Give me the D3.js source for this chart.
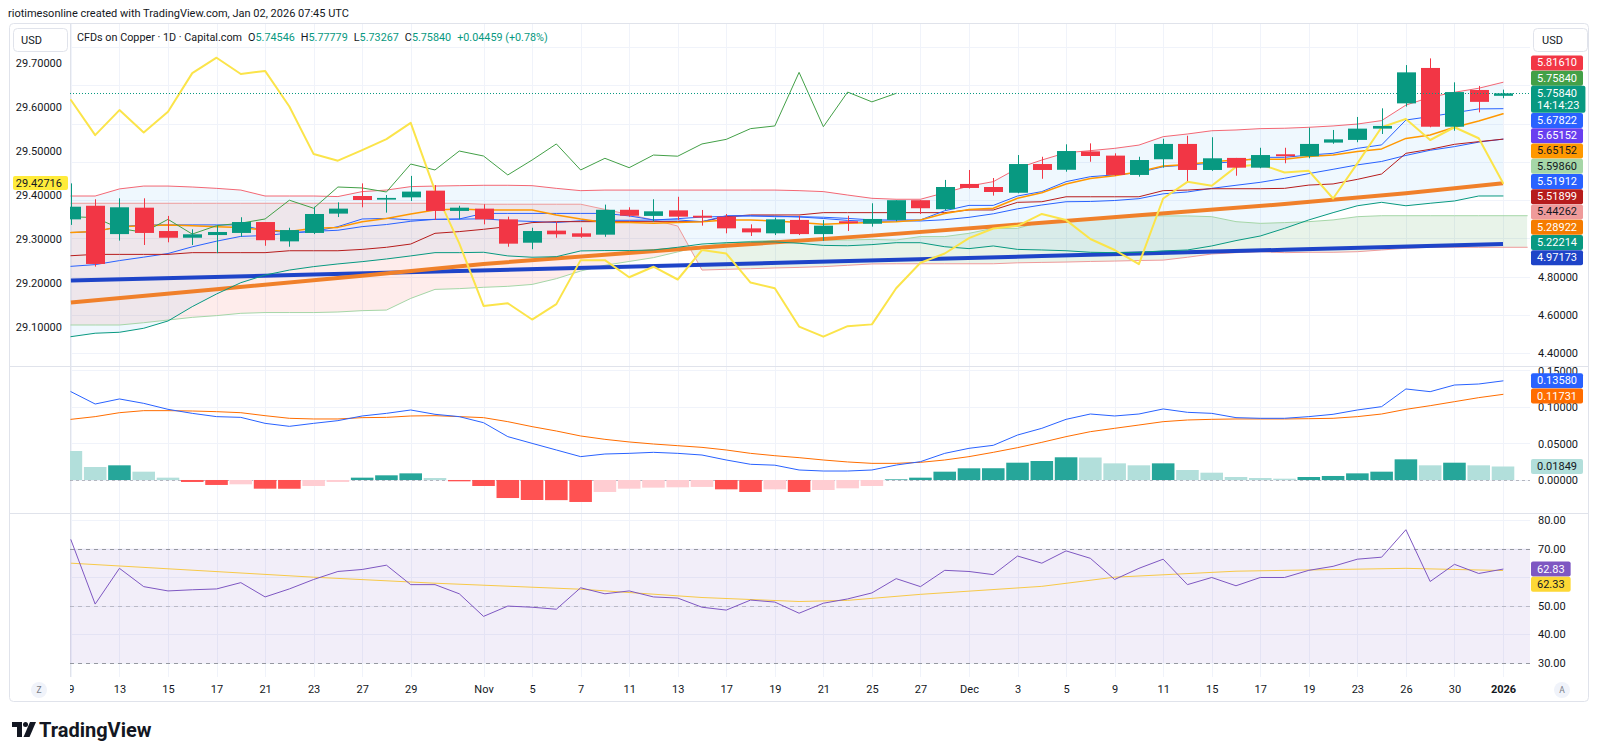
<!DOCTYPE html>
<html>
<head>
<meta charset="utf-8">
<script src="https://cdn.jsdelivr.net/npm/d3@7"></script>
<style>
  body { margin: 0; background: #fff; }
  svg text { font-family: Roboto, "Noto Sans", Arial, sans-serif; }
</style>
</head>
<body>
<script>
// ---------- data ----------
const dates = [
  "2025-10-09","2025-10-10","2025-10-13","2025-10-14","2025-10-15","2025-10-16","2025-10-17","2025-10-20","2025-10-21","2025-10-22",
  "2025-10-23","2025-10-24","2025-10-27","2025-10-28","2025-10-29","2025-10-30","2025-10-31","2025-11-03","2025-11-04","2025-11-05",
  "2025-11-06","2025-11-07","2025-11-10","2025-11-11","2025-11-12","2025-11-13","2025-11-14","2025-11-17","2025-11-18","2025-11-19",
  "2025-11-20","2025-11-21","2025-11-24","2025-11-25","2025-11-26","2025-11-27","2025-11-28","2025-12-01","2025-12-02","2025-12-03",
  "2025-12-04","2025-12-05","2025-12-08","2025-12-09","2025-12-10","2025-12-11","2025-12-12","2025-12-15","2025-12-16","2025-12-17",
  "2025-12-18","2025-12-19","2025-12-22","2025-12-23","2025-12-24","2025-12-26","2025-12-29","2025-12-30","2025-12-31","2026-01-02"
];
const futureDates = ["2026-01-05"]; // leading spans run one bar past the last candle

const opens = [
  5.100,5.171,5.023,5.161,5.039,5.004,5.018,5.029,5.086,4.985,
  5.029,5.130,5.222,5.203,5.215,5.250,5.144,5.156,5.100,4.978,
  5.041,5.027,5.020,5.150,5.118,5.147,5.119,5.114,5.053,5.027,
  5.097,5.023,5.090,5.077,5.097,5.200,5.153,5.285,5.269,5.239,
  5.389,5.359,5.455,5.433,5.332,5.414,5.494,5.358,5.421,5.370,
  5.440,5.430,5.501,5.515,5.574,5.706,5.891,5.584,5.776,5.74546
];
const highs = [
  5.288,5.205,5.210,5.210,5.118,5.048,5.067,5.111,5.086,5.056,
  5.166,5.189,5.288,5.227,5.327,5.279,5.171,5.179,5.114,5.056,
  5.088,5.058,5.177,5.163,5.205,5.218,5.149,5.128,5.074,5.109,
  5.119,5.097,5.119,5.184,5.200,5.200,5.306,5.358,5.316,5.436,
  5.427,5.492,5.497,5.445,5.427,5.521,5.537,5.529,5.421,5.474,
  5.474,5.579,5.567,5.635,5.680,5.906,5.941,5.816,5.797,5.77779
];
const lows = [
  5.071,4.853,4.989,4.966,4.980,4.966,4.923,5.009,4.962,4.957,
  5.023,5.112,5.163,5.135,5.196,5.097,5.100,5.074,4.957,4.944,
  5.004,5.004,5.009,5.114,5.088,5.097,5.067,5.027,5.013,5.018,
  5.018,4.988,5.039,5.062,5.090,5.128,5.149,5.261,5.224,5.236,
  5.312,5.349,5.401,5.327,5.323,5.370,5.300,5.353,5.328,5.367,
  5.393,5.419,5.495,5.503,5.546,5.689,5.581,5.563,5.659,5.73267
];
const closes = [
  5.166,4.867,5.163,5.029,5.004,5.022,5.034,5.086,4.991,5.044,
  5.128,5.156,5.201,5.212,5.245,5.144,5.161,5.100,4.973,5.039,
  5.022,5.009,5.150,5.119,5.142,5.114,5.109,5.053,5.032,5.100,
  5.023,5.067,5.080,5.102,5.200,5.158,5.269,5.264,5.243,5.389,
  5.358,5.457,5.431,5.332,5.410,5.494,5.358,5.419,5.370,5.436,
  5.430,5.494,5.518,5.574,5.588,5.868,5.584,5.765,5.71381,5.75840
];

// compared symbol on the left scale
const yellowLine = [
  29.616,29.536,29.593,29.542,29.589,29.677,29.712,29.675,29.682,29.601,
  29.493,29.478,29.502,29.527,29.564,29.410,29.290,29.148,29.154,29.117,
  29.152,29.252,29.252,29.213,29.237,29.208,29.275,29.267,29.201,29.188,
  29.101,29.078,29.102,29.106,29.188,29.246,29.267,29.302,29.324,29.330,
  29.357,29.343,29.300,29.275,29.243,29.392,29.430,29.421,29.464,29.470,
  29.451,29.455,29.392,29.472,29.554,29.573,29.525,29.554,29.529,29.42716
];

// Bollinger bands
const bbUpper = [
  5.222,5.222,5.259,5.274,5.274,5.269,5.262,5.253,5.222,5.222,
  5.222,5.219,5.245,5.253,5.271,5.274,5.276,5.278,5.278,5.276,
  5.262,5.250,5.253,5.253,5.253,5.253,5.253,5.253,5.253,5.253,
  5.250,5.245,5.227,5.210,5.205,5.205,5.239,5.274,5.297,5.367,
  5.410,5.448,5.459,5.471,5.488,5.532,5.546,5.563,5.567,5.574,
  5.576,5.581,5.588,5.598,5.616,5.697,5.738,5.764,5.785,5.81610
];
const bbLower = [
  4.487,4.505,4.510,4.531,4.569,4.644,4.710,4.769,4.809,4.835,
  4.853,4.867,4.879,4.893,4.909,4.926,4.926,4.928,4.909,4.902,
  4.905,4.935,4.937,4.937,4.940,4.954,4.971,4.978,4.982,4.982,
  4.975,4.964,4.962,4.968,4.978,4.978,4.957,4.947,4.961,4.943,
  4.940,4.936,4.928,4.926,4.928,4.935,4.940,4.961,4.989,5.013,
  5.053,5.097,5.135,5.171,5.189,5.171,5.184,5.196,5.222,5.22214
];

// Ichimoku
const conversionLine = [
  5.031,5.036,5.062,5.071,5.071,5.071,5.071,5.071,5.041,5.031,
  5.036,5.062,5.102,5.105,5.097,5.100,5.102,5.131,5.131,5.131,
  5.131,5.131,5.131,5.118,5.097,5.097,5.088,5.119,5.119,5.114,
  5.114,5.111,5.105,5.097,5.097,5.097,5.145,5.173,5.173,5.222,
  5.245,5.297,5.323,5.332,5.344,5.375,5.384,5.393,5.401,5.424,
  5.424,5.436,5.445,5.471,5.489,5.619,5.637,5.657,5.677,5.67822
];
const baseLine = [
  4.910,4.917,4.917,4.917,4.917,4.926,4.926,4.926,4.926,4.936,
  4.936,4.936,4.943,4.954,4.971,5.027,5.036,5.048,5.062,5.083,
  5.088,5.088,5.088,5.088,5.088,5.088,5.088,5.114,5.123,5.123,
  5.123,5.135,5.135,5.135,5.135,5.135,5.135,5.149,5.149,5.189,
  5.192,5.218,5.218,5.218,5.218,5.250,5.253,5.260,5.260,5.260,
  5.262,5.279,5.285,5.309,5.337,5.445,5.466,5.492,5.506,5.51899
];
const spanA = [
  4.548,4.548,4.548,4.560,4.574,4.588,4.597,4.609,4.613,4.613,
  4.613,4.616,4.623,4.626,4.687,4.734,4.738,4.745,4.750,4.760,
  4.790,4.830,4.860,4.880,4.900,4.930,4.960,4.975,4.985,4.990,
  4.990,4.992,4.992,4.995,4.992,5.010,5.010,5.027,5.053,5.053,
  5.088,5.088,5.105,5.114,5.118,5.118,5.118,5.114,5.088,5.079,
  5.083,5.088,5.097,5.114,5.119,5.119,5.119,5.119,5.119,5.119,5.119
];
const spanB = [
  5.184,5.184,5.184,5.184,5.184,5.184,5.184,5.184,5.184,5.184,
  5.184,5.184,5.184,5.184,5.184,5.184,5.184,5.179,5.179,5.179,
  5.179,5.179,5.152,5.125,5.097,5.065,4.835,4.839,4.842,4.846,
  4.849,4.853,4.860,4.867,4.868,4.868,4.868,4.868,4.868,4.873,
  4.875,4.877,4.880,4.882,4.885,4.887,4.902,4.919,4.926,4.931,
  4.926,4.928,4.928,4.931,4.940,4.949,4.954,4.954,4.954,4.954,4.954
];
const laggingShift = 25;
const spanAAhead = 5.59860;
const spanBAhead = 5.44262;
const purpleLast = 5.65152;
const countdown = "14:14:23";

const fastLine = [
  5.031,5.036,5.062,5.067,5.071,5.067,5.062,5.057,5.044,5.036,
  5.053,5.058,5.088,5.105,5.128,5.149,5.154,5.149,5.149,5.149,
  5.123,5.102,5.084,5.083,5.079,5.083,5.088,5.097,5.097,5.091,
  5.083,5.074,5.079,5.083,5.088,5.097,5.131,5.152,5.158,5.210,
  5.239,5.285,5.314,5.328,5.349,5.379,5.387,5.401,5.410,5.414,
  5.414,5.428,5.436,5.454,5.468,5.523,5.541,5.581,5.614,5.65152
];
const maOrangePts = [
  ["2025-10-09",4.665],["2025-10-17",4.735],["2025-10-27",4.805],["2025-11-03",4.867],
  ["2025-11-10",4.915],["2025-11-17",4.962],["2025-11-25",5.015],["2025-12-02",5.063],
  ["2025-12-10",5.121],["2025-12-18",5.180],["2025-12-26",5.236],["2026-01-02",5.28922]
];
const maBluePts = [
  ["2025-10-09",4.780],["2025-10-23",4.812],["2025-11-06",4.843],["2025-11-20",4.876],
  ["2025-12-04",4.908],["2025-12-18",4.941],["2026-01-02",4.97173]
];

// MACD
const macdLine = [
  0.1210,0.1041,0.1110,0.1050,0.0968,0.0913,0.0868,0.0858,0.0776,0.0735,
  0.0776,0.0813,0.0877,0.0913,0.0959,0.0900,0.0868,0.0785,0.0594,0.0502,
  0.0411,0.0320,0.0356,0.0365,0.0379,0.0365,0.0342,0.0274,0.0215,0.0203,
  0.0137,0.0123,0.0123,0.0137,0.0205,0.0251,0.0365,0.0434,0.0475,0.0616,
  0.0708,0.0831,0.0904,0.0877,0.0904,0.0973,0.0927,0.0913,0.0854,0.0845,
  0.0845,0.0868,0.0900,0.0959,0.1005,0.1247,0.1210,0.1301,0.1315,0.13580
];
const signalLine = [
  0.0831,0.0868,0.0922,0.0950,0.0950,0.0945,0.0936,0.0922,0.0881,0.0845,
  0.0836,0.0836,0.0854,0.0858,0.0877,0.0881,0.0868,0.0854,0.0799,0.0731,
  0.0671,0.0603,0.0557,0.0521,0.0493,0.0470,0.0447,0.0411,0.0365,0.0333,
  0.0306,0.0274,0.0247,0.0228,0.0228,0.0242,0.0274,0.0320,0.0379,0.0443,
  0.0516,0.0594,0.0662,0.0708,0.0753,0.0799,0.0822,0.0831,0.0836,0.0836,
  0.0836,0.0840,0.0845,0.0868,0.0904,0.0968,0.1018,0.1073,0.1128,0.11731
];
const histValues = [
  0.0397,0.0178,0.0201,0.0114,0.0032,-0.0027,-0.0068,-0.0059,-0.0119,-0.0120,
  -0.0082,-0.0027,0.0032,0.0064,0.0091,0.0027,-0.0018,-0.0082,-0.0247,-0.0274,
  -0.0276,-0.0301,-0.0164,-0.0119,-0.0105,-0.0100,-0.0095,-0.0128,-0.0164,-0.0128,
  -0.0164,-0.0137,-0.0114,-0.0082,0.0009,0.0032,0.0114,0.0160,0.0161,0.0237,
  0.0260,0.0311,0.0308,0.0228,0.0201,0.0228,0.0137,0.0100,0.0041,0.0027,
  0.0018,0.0041,0.0055,0.0091,0.0114,0.0283,0.0201,0.0237,0.0201,0.01849
];

// RSI
const rsiValues = [
  73.1,50.6,63.1,56.7,55.2,55.6,55.9,58.1,53.1,55.9,
  59.2,62.0,62.7,64.2,57.4,57.4,54.2,46.3,49.9,49.5,
  48.8,56.3,54.2,55.2,53.1,52.7,49.5,48.5,52.0,51.3,
  47.4,50.9,52.4,54.5,59.5,56.7,62.4,62.0,60.9,67.4,
  64.9,69.2,66.6,59.2,63.1,66.3,57.4,59.9,57.0,59.9,
  59.9,62.4,63.8,66.3,67.0,76.6,58.5,64.5,61.3,62.83
];
const rsiMaPts = [
  ["2025-10-09",64.9],["2025-10-23",60.0],["2025-10-30",57.9],["2025-11-07",55.8],
  ["2025-11-14",52.9],["2025-11-20",51.5],["2025-11-24",51.9],["2025-11-27",54.0],
  ["2025-12-04",56.8],["2025-12-09",60.0],["2025-12-16",62.1],["2025-12-26",63.1],
  ["2026-01-02",62.33]
];

// axes
const tickDates = [
  "2025-10-09","2025-10-13","2025-10-15","2025-10-17","2025-10-21","2025-10-23","2025-10-27","2025-10-29",
  "2025-11-03","2025-11-05","2025-11-07","2025-11-11","2025-11-13","2025-11-17","2025-11-19","2025-11-21",
  "2025-11-25","2025-11-27","2025-12-01","2025-12-03","2025-12-05","2025-12-09","2025-12-11","2025-12-15",
  "2025-12-17","2025-12-19","2025-12-23","2025-12-26","2025-12-30","2026-01-02"
];
const tickLabels = [
  "9","13","15","17","21","23","27","29","Nov","5","7","11","13","17","19","21",
  "25","27","Dec","3","5","9","11","15","17","19","23","26","30","2026"
];
const rightTicks = [4.4, 4.6, 4.8, 5.0, 5.2, 5.4, 5.6, 5.8, 6.0];
const leftTicks = [29.1, 29.2, 29.3, 29.4, 29.5, 29.6, 29.7];
const macdTicks = [0, 0.05, 0.10, 0.15];
const rsiTicks = [30, 40, 50, 60, 70, 80];

// ---------- layout ----------
const TEXT = '#131722', GRID = '#f0f3fa', BORDER = '#e0e3eb';
const UP = '#089981', DOWN = '#f23645';
const plotL = 70, plotR = 1530;
const mainTop = 23, mainBot = 366, macdBot = 513, rsiBot = 677;

const allDates = dates.concat(futureDates);
const xi = d3.scaleLinear().domain([0, dates.length - 1]).range([70.9, 1503]);
const xd = d => xi(allDates.indexOf(d));
const step = xi(1) - xi(0);

const yR = d3.scaleLinear().domain([4.3338, 6.1259]).range([mainBot, mainTop]);
const yL = d3.scaleLinear().domain([29.0114, 29.7909]).range([mainBot, mainTop]);
const yM = d3.scaleLinear().domain([-0.04521, 0.15616]).range([macdBot, mainBot]);
const yS = d3.scaleLinear().domain([25.1, 82.45]).range([rsiBot, macdBot]);

const svg = d3.select('body').append('svg')
  .attr('width', 1600).attr('height', 756);
const defs = svg.append('defs');

function addClip(id, x, y, w, h) {
  defs.append('clipPath').attr('id', id)
    .append('rect').attr('x', x).attr('y', y).attr('width', w).attr('height', h);
}
addClip('clipMain', plotL, mainTop, plotR - plotL, mainBot - mainTop);
addClip('clipMacd', plotL, mainBot, plotR - plotL, macdBot - mainBot);
addClip('clipRsi', plotL, macdBot, plotR - plotL, rsiBot - macdBot);
addClip('clipTime', plotL, rsiBot, plotR - plotL, 26);

svg.append('rect').attr('width', 1600).attr('height', 756).attr('fill', '#fff');

// header
svg.append('text')
  .attr('x', 8).attr('y', 13).attr('dominant-baseline', 'central')
  .attr('font-size', 11).attr('fill', TEXT)
  .text('riotimesonline created with TradingView.com, Jan 02, 2026 07:45 UTC');

// frame
svg.append('rect')
  .attr('x', 9.5).attr('y', 23.5).attr('width', 1579).attr('height', 678)
  .attr('rx', 4).attr('fill', '#fff').attr('stroke', BORDER);

// ---------- grid ----------
const grid = svg.append('g').attr('stroke', GRID).attr('stroke-width', 1);
grid.selectAll('.vg').data(tickDates.filter(d => xd(d) >= plotL)).enter().append('line')
  .attr('x1', d => Math.round(xd(d)) + 0.5).attr('x2', d => Math.round(xd(d)) + 0.5)
  .attr('y1', mainTop + 1).attr('y2', rsiBot);
function hGrid(ticks, scale, top, bot) {
  grid.selectAll(null).data(ticks.filter(t => scale(t) > top && scale(t) < bot)).enter().append('line')
    .attr('x1', plotL).attr('x2', plotR)
    .attr('y1', t => Math.round(scale(t)) + 0.5).attr('y2', t => Math.round(scale(t)) + 0.5);
}
hGrid(rightTicks, yR, mainTop, mainBot);
hGrid(macdTicks, yM, mainBot, macdBot);
hGrid(rsiTicks, yS, macdBot, rsiBot);

// pane separators
const sep = svg.append('g').attr('stroke', BORDER);
[mainBot, macdBot].forEach(y => sep.append('line')
  .attr('x1', 10).attr('x2', 1588).attr('y1', y + 0.5).attr('y2', y + 0.5));
sep.append('line').attr('x1', plotL + 0.5).attr('x2', plotL + 0.5)
  .attr('y1', mainTop).attr('y2', rsiBot);

// ---------- main pane ----------
const main = svg.append('g').attr('clip-path', 'url(#clipMain)');

const cloud = allDates.map((d, i) => ({ i, a: spanA[i], b: spanB[i] }));
defs.append('clipPath').attr('id', 'aboveB').append('path')
  .attr('d', d3.area().x(r => xi(r.i)).y0(0).y1(r => yR(r.b))(cloud));
defs.append('clipPath').attr('id', 'aboveA').append('path')
  .attr('d', d3.area().x(r => xi(r.i)).y0(0).y1(r => yR(r.a))(cloud));
main.append('path')
  .attr('clip-path', 'url(#aboveB)')
  .attr('fill', 'rgba(67,160,71,0.12)')
  .attr('d', d3.area().x(r => xi(r.i)).y0(r => yR(r.a)).y1(mainBot + 50)(cloud));
main.append('path')
  .attr('clip-path', 'url(#aboveA)')
  .attr('fill', 'rgba(244,67,54,0.10)')
  .attr('d', d3.area().x(r => xi(r.i)).y0(r => yR(r.b)).y1(mainBot + 50)(cloud));

// Bollinger fill
main.append('path').datum(dates.map((d, i) => i))
  .attr('fill', 'rgba(33,150,243,0.07)')
  .attr('d', d3.area().x(i => xi(i)).y0(i => yR(bbLower[i])).y1(i => yR(bbUpper[i])));

function drawSeries(g, values, scale, color, width, offset = 0) {
  g.append('path').datum(values)
    .attr('fill', 'none').attr('stroke', color).attr('stroke-width', width)
    .attr('stroke-linejoin', 'round').attr('stroke-linecap', 'round')
    .attr('d', d3.line().x((v, i) => xi(i + offset)).y(v => scale(v)));
}
function drawPoints(g, pts, scale, color, width) {
  g.append('path').datum(pts)
    .attr('fill', 'none').attr('stroke', color).attr('stroke-width', width)
    .attr('stroke-linejoin', 'round')
    .attr('d', d3.line().x(p => xd(p[0])).y(p => scale(p[1])));
}

const bbBasis = bbUpper.map((u, i) => (u + bbLower[i]) / 2);

drawSeries(main, spanA, yR, '#a5d6a7', 1);
drawSeries(main, spanB, yR, '#ef9a9a', 1);
drawPoints(main, maBluePts, yR, '#1e44c8', 4);
drawPoints(main, maOrangePts, yR, '#f0802a', 4);
drawSeries(main, bbUpper, yR, 'rgba(242,54,69,0.75)', 1);
drawSeries(main, bbLower, yR, '#089981', 1);
drawSeries(main, bbBasis, yR, '#2962ff', 1);
drawSeries(main, baseLine, yR, '#b71c1c', 1);
drawSeries(main, conversionLine, yR, '#2962ff', 1);
drawSeries(main, fastLine, yR, '#ff9800', 1.5);
drawSeries(main, closes.slice(laggingShift), yR, '#43a047', 1);
drawSeries(main, yellowLine, yL, '#fbe44a', 2);

// candles
const candles = dates.map((d, i) => ({ i, o: opens[i], h: highs[i], l: lows[i], c: closes[i] }));
const bodyW = Math.round(step * 0.77);
const cg = main.append('g');
cg.selectAll('line').data(candles).enter().append('line')
  .attr('x1', r => Math.round(xi(r.i)) + 0.5).attr('x2', r => Math.round(xi(r.i)) + 0.5)
  .attr('y1', r => yR(r.h)).attr('y2', r => yR(r.l))
  .attr('stroke', r => r.c >= r.o ? UP : DOWN).attr('stroke-width', 1);
cg.selectAll('rect').data(candles).enter().append('rect')
  .attr('x', r => Math.round(xi(r.i)) + 0.5 - bodyW / 2)
  .attr('width', bodyW)
  .attr('y', r => yR(Math.max(r.o, r.c)))
  .attr('height', r => Math.max(1, Math.abs(yR(r.o) - yR(r.c))))
  .attr('fill', r => r.c >= r.o ? UP : DOWN);

// last price line
main.append('line')
  .attr('x1', plotL).attr('x2', plotR)
  .attr('y1', Math.round(yR(closes[59])) + 0.5).attr('y2', Math.round(yR(closes[59])) + 0.5)
  .attr('stroke', UP).attr('stroke-dasharray', '1,2');

// ---------- MACD pane ----------
const macd = svg.append('g').attr('clip-path', 'url(#clipMacd)');
macd.append('line')
  .attr('x1', plotL).attr('x2', plotR)
  .attr('y1', Math.round(yM(0)) + 0.5).attr('y2', Math.round(yM(0)) + 0.5)
  .attr('stroke', 'rgba(120,123,134,0.5)').attr('stroke-dasharray', '3,3');
const histW = step * 0.93;
macd.selectAll('rect.hist').data(histValues).enter().append('rect')
  .attr('class', 'hist')
  .attr('x', (v, i) => xi(i) - histW / 2)
  .attr('width', histW)
  .attr('y', v => Math.min(yM(0), yM(v)))
  .attr('height', v => Math.abs(yM(v) - yM(0)))
  .attr('fill', (v, i) => {
    const prev = i > 0 ? histValues[i - 1] : Infinity;
    if (v >= 0) return v >= prev ? '#26a69a' : '#b2dfdb';
    return v < prev ? '#ff5252' : '#ffcdd2';
  });
drawSeries(macd, signalLine, yM, '#ff6d00', 1);
drawSeries(macd, macdLine, yM, '#2962ff', 1);

// ---------- RSI pane ----------
const rsi = svg.append('g').attr('clip-path', 'url(#clipRsi)');
rsi.append('rect')
  .attr('x', plotL).attr('width', plotR - plotL)
  .attr('y', yS(70)).attr('height', yS(30) - yS(70))
  .attr('fill', 'rgba(126,87,194,0.1)');
[[70, '#9598a1'], [50, 'rgba(149,152,161,0.55)'], [30, '#9598a1']].forEach(([v, c]) => {
  rsi.append('line').attr('x1', plotL).attr('x2', plotR)
    .attr('y1', Math.round(yS(v)) + 0.5).attr('y2', Math.round(yS(v)) + 0.5)
    .attr('stroke', c).attr('stroke-dasharray', '4,4');
});
drawPoints(rsi, rsiMaPts, yS, '#f7c948', 1);
drawSeries(rsi, rsiValues, yS, '#7e57c2', 1);

// ---------- price tag positions (computed before the axes so hidden ticks can be skipped) ----------
const GAP = 15.25;
const lastClose = closes[closes.length - 1];
const mainTags = [
  { v: bbUpper[59], bg: '#f23645', fg: '#fff' },
  { v: lastClose, bg: '#43a047', fg: '#fff', above: true },
  { v: conversionLine[59], bg: '#2962ff', fg: '#fff' },
  { v: purpleLast, bg: '#6a3ff0', fg: '#fff' },
  { v: fastLine[59], bg: '#ff9800', fg: TEXT },
  { v: spanAAhead, bg: '#a5d6a7', fg: TEXT },
  { v: bbBasis[59], bg: '#2962ff', fg: '#fff' },
  { v: baseLine[59], bg: '#b71c1c', fg: '#fff' },
  { v: spanBAhead, bg: '#ef9a9a', fg: TEXT },
  { v: maOrangePts[maOrangePts.length - 1][1], bg: '#f57c00', fg: '#fff' },
  { v: bbLower[59], bg: '#089981', fg: '#fff' },
  { v: maBluePts[maBluePts.length - 1][1], bg: '#1e44c8', fg: '#fff' }
];
const anchorY = yR(lastClose);
let prevTop = anchorY - 7.5, prevBot = anchorY - 7.5 + 27;
mainTags.filter(t => t.v > lastClose || t.above).sort((a, b) => a.v - b.v).forEach(t => {
  t.y = Math.min(yR(t.v), prevTop - GAP / 2); prevTop = t.y - GAP / 2;
});
mainTags.filter(t => !(t.v > lastClose || t.above)).sort((a, b) => b.v - a.v).forEach(t => {
  t.y = Math.max(yR(t.v), prevBot + GAP / 2); prevBot = t.y + GAP / 2;
});
const mainSpan = [d3.min(mainTags, t => t.y) - 8, d3.max(mainTags, t => t.y) + 8];

function stackTags(list, scale) {
  let pb = -Infinity;
  list.sort((a, b) => b.v - a.v).forEach(t => {
    t.y = Math.max(scale(t.v), pb + GAP); pb = t.y;
  });
  return list;
}
const macdTags = stackTags([
  { v: macdLine[59], bg: '#2962ff', fg: '#fff' },
  { v: signalLine[59], bg: '#ff6d00', fg: '#fff' },
  { v: histValues[59], bg: '#b2dfdb', fg: TEXT }
], yM);
const rsiTags = stackTags([
  { v: rsiValues[59], bg: '#7e57c2', fg: '#fff' },
  { v: rsiMaPts[rsiMaPts.length - 1][1], bg: '#fdd835', fg: TEXT }
], yS);
const hiddenBy = (tags, y) => tags.some(t => Math.abs(t.y - y) < 10);

// ---------- axes ----------
function styleAxis(g) {
  g.select('.domain').remove();
  g.selectAll('text').attr('font-size', 11).attr('fill', TEXT)
    .attr('font-family', 'Roboto, "Noto Sans", Arial, sans-serif');
}
svg.append('g').attr('transform', `translate(${plotR},0)`)
  .call(d3.axisRight(yR)
    .tickValues(rightTicks.filter(t => yR(t) > 58 && yR(t) < mainBot - 4 &&
      !(yR(t) > mainSpan[0] - 4 && yR(t) < mainSpan[1] + 4)))
    .tickSize(0).tickPadding(8).tickFormat(d => d.toFixed(5)))
  .call(styleAxis);
svg.append('g').attr('transform', `translate(${plotL},0)`)
  .call(d3.axisLeft(yL).tickValues(leftTicks).tickSize(0).tickPadding(8).tickFormat(d => d.toFixed(5)))
  .call(styleAxis);
svg.append('g').attr('transform', `translate(${plotR},0)`)
  .call(d3.axisRight(yM).tickValues(macdTicks).tickSize(0).tickPadding(8).tickFormat(d => d.toFixed(5)))
  .call(styleAxis);
svg.append('g').attr('transform', `translate(${plotR},0)`)
  .call(d3.axisRight(yS).tickValues(rsiTicks.filter(t => !hiddenBy(rsiTags, yS(t))))
    .tickSize(0).tickPadding(8).tickFormat(d => d.toFixed(2)))
  .call(styleAxis);

const tickIdx = tickDates.map(d => dates.indexOf(d));
const timeAxis = svg.append('g').attr('clip-path', 'url(#clipTime)')
  .append('g').attr('transform', `translate(0,${rsiBot})`)
  .call(d3.axisBottom(xi).tickValues(tickIdx).tickSize(0).tickPadding(8)
    .tickFormat(i => tickLabels[tickIdx.indexOf(i)]))
  .call(styleAxis);
timeAxis.selectAll('text').attr('font-weight', t => tickLabels[tickIdx.indexOf(t)] === '2026' ? 700 : 400);

// ---------- price tags ----------
const tagLayer = svg.append('g');
function tag(yc, text, bg, fg, sub) {
  const g = tagLayer.append('g');
  const h = sub ? 27 : 15;
  const top = sub ? yc - 7.5 : yc - h / 2;
  const rect = g.append('rect').attr('x', 1531).attr('y', top).attr('height', h).attr('rx', 2).attr('fill', bg);
  const t = g.append('text').attr('x', 1537).attr('y', yc)
    .attr('dominant-baseline', 'central').attr('font-size', 11).attr('fill', fg).text(text);
  let w = t.node().getComputedTextLength();
  if (sub) {
    const t2 = g.append('text').attr('x', 1537).attr('y', yc + 12.5)
      .attr('dominant-baseline', 'central').attr('font-size', 11).attr('fill', fg).text(sub);
    w = Math.max(w, t2.node().getComputedTextLength());
  }
  rect.attr('width', w + 12);
}
mainTags.forEach(t => tag(t.y, t.v.toFixed(5), t.bg, t.fg));
tag(anchorY, lastClose.toFixed(5), UP, '#fff', countdown);
macdTags.forEach(t => tag(t.y, t.v.toFixed(5), t.bg, t.fg));
rsiTags.forEach(t => tag(t.y, t.v.toFixed(2), t.bg, t.fg));

// left-scale tag for compared symbol
const yl = yL(yellowLine[59]);
svg.append('rect').attr('x', 13).attr('y', yl - 7).attr('width', 55).attr('height', 14)
  .attr('rx', 2).attr('fill', '#ffeb3b');
svg.append('text').attr('x', 62).attr('y', yl).attr('text-anchor', 'end')
  .attr('dominant-baseline', 'central').attr('font-size', 11).attr('fill', TEXT)
  .text(yellowLine[59].toFixed(5));

// USD boxes
[[13.5, 21], [1533.5, 1542]].forEach(([bx, tx]) => {
  svg.append('rect').attr('x', bx).attr('y', 28.5).attr('width', 54).attr('height', 23)
    .attr('rx', 4).attr('fill', '#fff').attr('stroke', BORDER);
  svg.append('text').attr('x', tx).attr('y', 40).attr('dominant-baseline', 'central')
    .attr('font-size', 11).attr('fill', TEXT).text('USD');
});

// legend
const legend = svg.append('text').attr('x', 77).attr('y', 37)
  .attr('dominant-baseline', 'central').attr('font-size', 10.8).attr('fill', TEXT);
legend.append('tspan').text('CFDs on Copper · 1D · Capital.com');
[['O', opens[59]], ['H', highs[59]], ['L', lows[59]], ['C', closes[59]]].forEach(([k, v]) => {
  legend.append('tspan').attr('dx', 6).attr('fill', TEXT).text(k);
  legend.append('tspan').attr('fill', UP).text(v.toFixed(5));
});
const chg = closes[59] - closes[58];
legend.append('tspan').attr('dx', 6).attr('fill', UP)
  .text(`+${chg.toFixed(5)} (+${(chg / closes[58] * 100).toFixed(2)}%)`);

// corner buttons
[[39, 'Z'], [1562, 'A']].forEach(([cx, s]) => {
  svg.append('circle').attr('cx', cx).attr('cy', 690).attr('r', 8).attr('fill', '#f0f3fa');
  svg.append('text').attr('x', cx).attr('y', 690).attr('text-anchor', 'middle')
    .attr('dominant-baseline', 'central').attr('font-size', 8.5).attr('fill', '#787b86').text(s);
});

// TradingView logo
const logo = svg.append('g').attr('fill', TEXT);
logo.append('path').attr('d', 'M12 722 h10 v15 h-5 v-10 h-5 z');
logo.append('circle').attr('cx', 25.5).attr('cy', 724.5).attr('r', 2.5);
logo.append('path').attr('d', 'M30 722 h6 l-6.5 15 h-6 z');
svg.append('text').attr('x', 39).attr('y', 730).attr('dominant-baseline', 'central')
  .attr('font-size', 20).attr('font-weight', 700).attr('fill', TEXT).text('TradingView');
</script>
</body>
</html>
